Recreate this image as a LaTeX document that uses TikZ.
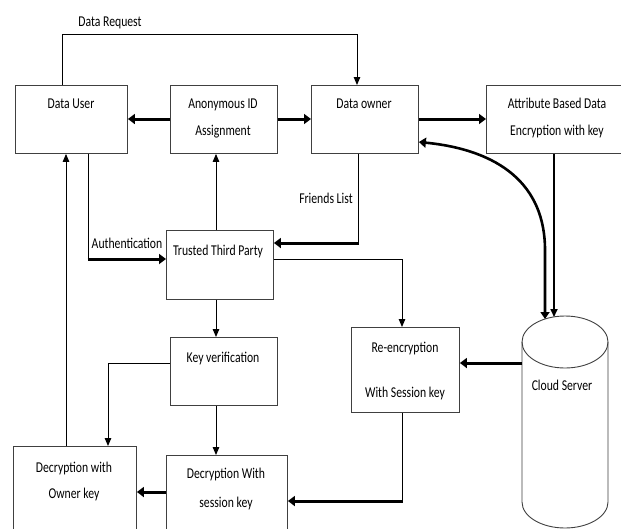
\documentclass[tikz,border=0pt]{standalone}
\usepackage{fontspec}
\setmainfont{Carlito}[FakeStretch=0.78]
\usetikzlibrary{arrows.meta}
\begin{document}
\begin{tikzpicture}[x=1pt,y=-1pt,
  box/.style={draw=black!75, line width=0.9pt, anchor=north west, inner sep=0pt},
  txt/.style={anchor=base, inner sep=0pt, font=\fontsize{15}{18}\selectfont, text=black},
  plain/.style={line width=1pt, draw=black},
  thinarrow/.style={line width=1pt, draw=black, -{Triangle[length=8pt,width=6.5pt]}},
  thickarrow/.style={line width=3pt, draw=black, -{Triangle[length=7pt,width=10pt]}},
  thickline/.style={line width=3pt, draw=black},
]
\useasboundingbox (0,0) rectangle (621,528);
\clip (0,0) rectangle (621,528);
\fill[white] (0,0) rectangle (621,528);

% boxes
\node[box, minimum width=112pt, minimum height=68pt] (du) at (15,85) {};
\node[box, minimum width=107pt, minimum height=68pt] (anon) at (170,85) {};
\node[box, minimum width=107pt, minimum height=68pt] (do) at (311,85) {};
\node[box, minimum width=144pt, minimum height=68pt] (abe) at (486,85) {};
\node[box, minimum width=107pt, minimum height=69pt] (ttp) at (166,230) {};
\node[box, minimum width=107pt, minimum height=68pt] (kv) at (170,337) {};
\node[box, minimum width=108pt, minimum height=85pt] (re) at (351,327) {};
\node[box, minimum width=123pt, minimum height=100pt] (dow) at (13,446) {};
\node[box, minimum width=121pt, minimum height=100pt] (dse) at (166,455) {};

% cloud server cylinder
\draw[black!75, line width=0.9pt] (565,342) ellipse [x radius=43pt, y radius=26pt];
\draw[black!75, line width=0.9pt] (522,342) -- (522,502)
  .. controls (522,516.4) and (541.3,528) .. (565,528)
  .. controls (588.7,528) and (608,516.4) .. (608,502) -- (608,342);
\coordinate (cloudA) at (545,319);
\coordinate (cloudB) at (554,317);
\coordinate (cloudW) at (522,363);

% texts
\node[txt] (tdu) at (71,108) {Data User};
\node[txt] (tanon1) at (223,108) {Anonymous ID};
\node[txt] (tanon2) at (223,135) {Assignment};
\node[txt] (tdo) at (364,108) {Data owner};
\node[txt] (tabe1) at (557,108) {Attribute Based Data};
\node[txt] (tabe2) at (557,135) {Encryption with key};
\node[txt] (tttp) at (218,255) {Trusted Third Party};
\node[txt] (tkv) at (223,362) {Key verification};
\node[txt] (tre1) at (405,352) {Re-encryption};
\node[txt] (tre2) at (405,397) {With Session key};
\node[txt] (tdow1) at (74,472) {Decryption with};
\node[txt] (tdow2) at (74,498) {Owner key};
\node[txt] (tdse1) at (226,478) {Decryption With};
\node[txt] (tdse2) at (226,507) {session key};
\node[txt] (tcloud) at (562,390) {Cloud Server};
\node[txt] (lreq) at (110,26) {Data Request};
\node[txt] (lauth) at (127,248) {Authentication};
\node[txt] (lfri) at (326,203) {Friends List};

% lane coordinates
\coordinate (rqL) at (62,34);
\coordinate (rqR) at (357,34);
\coordinate (au) at (88,259);
\coordinate (fr) at (358,243);
\coordinate (tr) at (402,259);
\coordinate (kvl) at (108,363);
\coordinate (red) at (402,501);
\coordinate (up) at (66,0);
\coordinate (mid) at (216,0);
\coordinate (ab) at (554,0);

% connectors
\draw[thinarrow] (du.north -| rqL) -- (rqL) -- (rqR) -- (do.north -| rqR);
\draw[thickarrow] (anon.west |- 0,119) -- (du.east |- 0,119);
\draw[thickarrow] (anon.east |- 0,119) -- (do.west |- 0,119);
\draw[thickarrow] (do.east |- 0,119) -- (abe.west |- 0,119);
\draw[line width=2.6pt, {Triangle[length=7pt,width=10pt]}-{Triangle[length=7pt,width=9pt]}]
  (do.east |- 0,142) .. controls (500,150) and (545,185) .. (545,250) -- (cloudA);
\draw[line width=1.6pt, -{Triangle[length=8pt,width=7pt]}] (abe.south -| ab) -- (cloudB);
\draw[plain] (du.south -| au) -- (au);
\draw[thickarrow] ([xshift=-0.5pt]au) -- (ttp.west |- au);
\draw[thinarrow] (ttp.north -| mid) -- (anon.south -| mid);
\draw[plain] (do.south -| fr) -- (fr);
\draw[thickarrow] ([xshift=0.5pt]fr) -- (ttp.east |- fr);
\draw[thinarrow] (ttp.east |- tr) -- (tr) -- (re.north -| tr);
\draw[thinarrow] (ttp.south -| mid) -- (kv.north -| mid);
\draw[thinarrow] (kv.west |- kvl) -- (kvl) -- (dow.north -| kvl);
\draw[thinarrow] (kv.south -| mid) -- (dse.north -| mid);
\draw[thickarrow] (cloudW) -- (re.east |- cloudW);
\draw[plain] (re.south -| red) -- (red);
\draw[thickarrow] ([xshift=0.5pt]red) -- (dse.east |- red);
\draw[thickarrow] (dse.west |- 0,492) -- (dow.east |- 0,492);
\draw[thinarrow] (dow.north -| up) -- (du.south -| up);
\end{tikzpicture}
\end{document}
